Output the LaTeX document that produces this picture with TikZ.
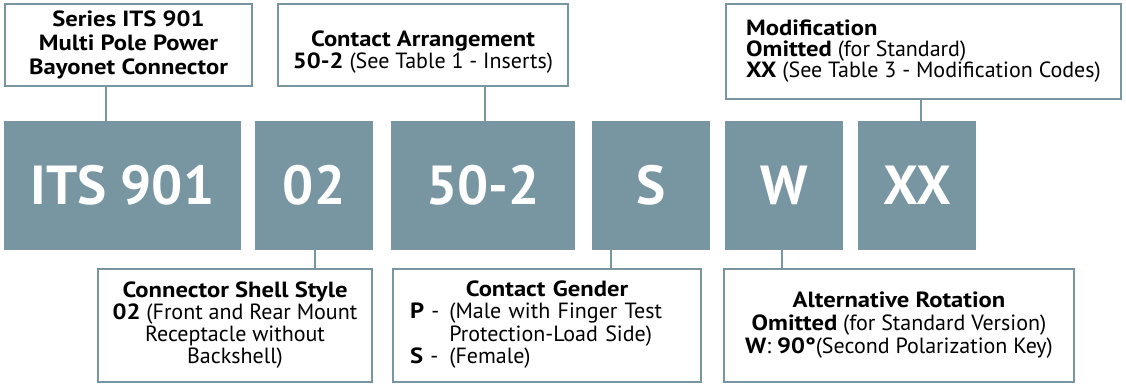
\documentclass[tikz,border=0pt]{standalone}
\usepackage{fontspec}
\setmainfont{PT Sans}[BoldFeatures={FakeStretch=1.12}]
\newfontfamily\codefont{PT Sans}
\definecolor{slate}{HTML}{7895A2}
\tikzset{
  code/.style={fill=slate, text=white, inner sep=0pt, minimum height=129pt,
    font=\codefont\fontsize{55}{55}\selectfont\bfseries},
  note/.style={draw=slate, line width=2.5pt, inner sep=0pt, align=center,
    font=\fontsize{22}{22}\selectfont},
  link/.style={draw=slate, line width=2.5pt}
}
\begin{document}
\begin{tikzpicture}[x=1pt, y=-1pt]
\useasboundingbox (0,0) rectangle (1126,385);
% code blocks
\node[code, minimum width=237pt] (its) at (122.5,185.5) {ITS 901};
\node[code, minimum width=118pt] (shl) at (314,185.5) {02};
\node[code, minimum width=184pt] (ins) at (483,185.5) {50-2};
\node[code, minimum width=118pt] (gdr) at (651,185.5) {S};
\node[code, minimum width=118pt] (alt) at (784,185.5) {W};
\node[code, minimum width=118pt] (mcode) at (917,185.5) {XX};
% notes above
\node[note, minimum width=247pt, minimum height=82pt, font=\fontsize{22}{24}\selectfont\bfseries] (ser) at (128.5,45)
  {Series ITS 901\\Multi Pole Power\\Bayonet Connector};
\node[note, minimum width=290pt, minimum height=82pt] (arr) at (423,45)
  {\rule{0pt}{30pt}\textbf{Contact Arrangement}\\\textbf{50-2} (See Table 1 - Inserts)};
\node[note, align=left, minimum width=395pt, minimum height=95pt, font=\fontsize{22}{21}\selectfont] (mod) at (923.5,51.5)
  {\textbf{Modification}\\\textbf{Omitted} (for Standard)\\\textbf{XX} (See Table 3 - Modification Codes)};
% notes below
\node[note, minimum width=274pt, minimum height=113pt] (shell) at (235,325.5)
  {\textbf{Connector Shell Style}\\\textbf{02} (Front and Rear Mount\\Receptacle without\\Backshell)};
\node[note, align=left, text width=274pt, inner xsep=17pt, minimum height=113pt] (gen) at (547,325.5)
  {\begin{tabular}{@{}l@{\hspace{10pt}}l@{}}
   \multicolumn{2}{c}{\hspace*{22pt}\textbf{Contact Gender}}\\
   \textbf{P} - & (Male with Finger Test\\
               & Protection-Load Side)\\
   \textbf{S} - & (Female)
   \end{tabular}};
\node[note, minimum width=350pt, minimum height=113pt, font=\fontsize{22}{23}\selectfont] (rot) at (899,325.5)
  {\textbf{Alternative Rotation}\\\textbf{Omitted} (for Standard Version)\\\textbf{W}: \textbf{90°}(Second Polarization Key)};
% connectors
\coordinate (k1) at (106,0);
\coordinate (k2) at (485,0);
\coordinate (k3) at (921,0);
\coordinate (k4) at (315,0);
\coordinate (k5) at (611,0);
\coordinate (k6) at (782,0);
\draw[link] (ser.south -| k1) -- (its.north -| k1);
\draw[link] (arr.south -| k2) -- (ins.north -| k2);
\draw[link] (mod.south -| k3) -- (mcode.north -| k3);
\draw[link] (shl.south -| k4) -- (shell.north -| k4);
\draw[link] (gdr.south -| k5) -- (gen.north -| k5);
\draw[link] (alt.south -| k6) -- (rot.north -| k6);
\end{tikzpicture}
\end{document}
